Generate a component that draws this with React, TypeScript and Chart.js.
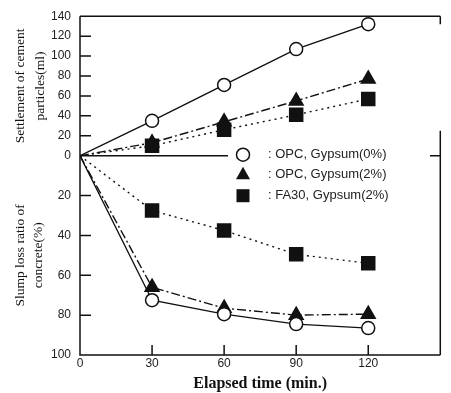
import React, { useEffect, useRef } from "react";
import { Chart, registerables } from "chart.js";

Chart.register(...registerables);

// ---- data ----
const times = [0, 30, 60, 90, 120];
const settleOPC0 = [0, 35, 71, 107, 132];
const settleOPC2 = [0, 13, 34, 55, 77];
const settleFA30 = [0, 10, 26, 41, 57];
const slumpOPC0 = [0, 72.5, 79.5, 84.5, 86.5];
const slumpOPC2 = [0, 66, 76.5, 80, 79.5];
const slumpFA30 = [0, 27.5, 37.5, 49.5, 54];
const xTickValues = [0, 30, 60, 90, 120];
const topTickValues = [0, 20, 40, 60, 80, 100, 120, 140];
const botTickValues = [0, 20, 40, 60, 80, 100];
const legendLabels = [": OPC, Gypsum(0%)", ": OPC, Gypsum(2%)", ": FA30, Gypsum(2%)"];

const INK = "#111";
const SANS = "'Liberation Sans', Arial, sans-serif";
const SERIF = "'Liberation Serif', 'Times New Roman', serif";

const pts = (vals: number[]) => times.map((t, i) => ({ x: t, y: vals[i] }));
const radii = (r: number) => times.map((t) => (t === 0 ? 0 : r));

type Kind = "circle" | "triangle" | "rect";
const styleFor = (kind: Kind) => {
  if (kind === "circle")
    return { pointStyle: "circle", pointRadius: radii(6.5), pointBackgroundColor: "#fff", borderDash: [] as number[] };
  if (kind === "triangle")
    return { pointStyle: "triangle", pointRadius: radii(8), pointBackgroundColor: INK, borderDash: [9, 3, 2, 3] };
  return { pointStyle: "rect", pointRadius: radii(9.2), pointBackgroundColor: INK, borderDash: [2, 4] };
};

const makeDs = (vals: number[], kind: Kind, axis: string) => {
  const s = styleFor(kind);
  return {
    data: pts(vals),
    yAxisID: axis,
    borderColor: INK,
    borderWidth: 1.4,
    borderDash: s.borderDash,
    pointStyle: s.pointStyle,
    pointRadius: s.pointRadius,
    pointHoverRadius: s.pointRadius,
    pointBackgroundColor: s.pointBackgroundColor,
    pointBorderColor: INK,
    pointBorderWidth: 1.5,
    tension: 0,
    fill: false,
  };
};

const decorPlugin = {
  id: "decor",
  beforeDatasetsDraw(chart: any) {
    const { ctx, chartArea } = chart;
    const { left, right, top, bottom } = chartArea;
    const yTop = chart.scales.yTop;
    const yBot = chart.scales.yBot;
    const xS = chart.scales.x;
    const zeroY = yTop.getPixelForValue(0);
    ctx.save();
    ctx.strokeStyle = INK;
    ctx.lineWidth = 1.5;
    ctx.beginPath();
    // left, top, bottom borders
    ctx.moveTo(left, top);
    ctx.lineTo(left, bottom);
    ctx.lineTo(right, bottom);
    ctx.moveTo(left, top);
    ctx.lineTo(right, top);
    // right border (partial, like the reference)
    ctx.moveTo(right, top);
    ctx.lineTo(right, top + 8);
    ctx.moveTo(right, zeroY - 25);
    ctx.lineTo(right, bottom);
    // zero line between panels, interrupted by the legend
    ctx.moveTo(left, zeroY);
    ctx.lineTo(228, zeroY);
    ctx.moveTo(430, zeroY);
    ctx.lineTo(right, zeroY);
    // inward ticks
    topTickValues.filter((v) => v > 0 && v < 140).forEach((v) => {
      const y = yTop.getPixelForValue(v);
      ctx.moveTo(left, y);
      ctx.lineTo(left + 11, y);
    });
    botTickValues.filter((v) => v > 0 && v < 100).forEach((v) => {
      const y = yBot.getPixelForValue(v);
      ctx.moveTo(left, y);
      ctx.lineTo(left + 11, y);
    });
    xTickValues.filter((v) => v > 0).forEach((v) => {
      const x = xS.getPixelForValue(v);
      ctx.moveTo(x, bottom);
      ctx.lineTo(x, bottom - 10);
    });
    ctx.stroke();
    ctx.restore();
  },
  afterDraw(chart: any) {
    const { ctx } = chart;
    const zeroY = chart.scales.yTop.getPixelForValue(0);
    const mx = 243;
    const textX = 268;
    const rows = [zeroY - 1, zeroY + 19, zeroY + 40];
    ctx.save();
    ctx.strokeStyle = INK;
    ctx.fillStyle = INK;
    ctx.lineWidth = 1.5;
    // circle
    ctx.beginPath();
    ctx.arc(mx, rows[0], 6.5, 0, Math.PI * 2);
    ctx.fillStyle = "#fff";
    ctx.fill();
    ctx.stroke();
    // triangle
    ctx.fillStyle = INK;
    ctx.beginPath();
    ctx.moveTo(mx, rows[1] - 8);
    ctx.lineTo(mx + 7, rows[1] + 4.5);
    ctx.lineTo(mx - 7, rows[1] + 4.5);
    ctx.closePath();
    ctx.fill();
    // square
    ctx.fillRect(mx - 6.5, rows[2] - 6.5, 13, 13);
    // texts
    ctx.font = `13px ${SANS}`;
    ctx.textBaseline = "middle";
    ctx.textAlign = "left";
    ctx.fillStyle = "#222";
    legendLabels.forEach((t, i) => ctx.fillText(t, textX, rows[i]));
    ctx.restore();
  },
};

export default function App() {
  const ref = useRef<HTMLCanvasElement>(null);
  useEffect(() => {
    const chart = new Chart(ref.current as HTMLCanvasElement, {
      type: "line",
      data: {
        datasets: [
          makeDs(settleOPC0, "circle", "yTop"),
          makeDs(settleOPC2, "triangle", "yTop"),
          makeDs(settleFA30, "rect", "yTop"),
          makeDs(slumpOPC0, "circle", "yBot"),
          makeDs(slumpOPC2, "triangle", "yBot"),
          makeDs(slumpFA30, "rect", "yBot"),
        ] as any,
      },
      options: {
        responsive: false,
        animation: false,
        events: [],
        layout: { padding: { left: 0, right: 9, top: 14, bottom: 0 } },
        plugins: { legend: { display: false }, tooltip: { enabled: false } },
        scales: {
          x: {
            type: "linear",
            position: "bottom",
            min: 0,
            max: 150,
            afterFit: (s: any) => {
              s.height = 38;
            },
            afterBuildTicks: (s: any) => {
              s.ticks = xTickValues.map((v) => ({ value: v }));
            },
            grid: { display: false, drawTicks: false },
            border: { display: false },
            ticks: {
              padding: 1,
              autoSkip: false,
              maxRotation: 0,
              color: "#222",
              font: { family: SANS, size: 12 },
            },
            title: {
              display: true,
              text: "Elapsed time (min.)",
              color: INK,
              font: { family: SERIF, size: 16, weight: "bold" },
              padding: { top: 0, bottom: 0 },
            },
          },
          yTop: {
            type: "linear",
            position: "left",
            stack: "panels",
            stackWeight: 140,
            weight: 1,
            min: 0,
            max: 140,
            afterFit: (s: any) => {
              s.width = 80;
            },
            afterBuildTicks: (s: any) => {
              s.ticks = topTickValues.map((v) => ({ value: v }));
            },
            grid: { display: false, drawTicks: false },
            border: { display: false },
            ticks: {
              padding: 9,
              autoSkip: false,
              color: "#222",
              font: { family: SANS, size: 12 },
            },
            title: {
              display: true,
              text: ["Settlement of cement", "particles(ml)"],
              color: INK,
              font: { family: SERIF, size: 13.5, lineHeight: 1.45 },
              padding: { top: 11, bottom: 0 },
            },
          },
          yBot: {
            type: "linear",
            position: "left",
            stack: "panels",
            stackWeight: 200,
            weight: 0,
            min: 0,
            max: 100,
            reverse: true,
            afterFit: (s: any) => {
              s.width = 80;
            },
            afterBuildTicks: (s: any) => {
              s.ticks = botTickValues.map((v) => ({ value: v }));
            },
            grid: { display: false, drawTicks: false },
            border: { display: false },
            ticks: {
              padding: 9,
              autoSkip: false,
              color: "#222",
              font: { family: SANS, size: 12 },
              callback: (v: any) => (Number(v) === 0 ? "" : String(v)),
            },
            title: {
              display: true,
              text: ["Slump loss ratio of", "concrete(%)"],
              color: INK,
              font: { family: SERIF, size: 13.5, lineHeight: 1.35 },
              padding: { top: 11, bottom: 0 },
            },
          },
        } as any,
      },
      plugins: [decorPlugin],
    });
    return () => chart.destroy();
  }, []);
  return (
    <div style={{ position: "fixed", left: 0, top: 0, width: 451, height: 393, background: "#fff" }}>
      <canvas ref={ref} width={451} height={393} style={{ display: "block", width: 451, height: 393 }} />
    </div>
  );
}
